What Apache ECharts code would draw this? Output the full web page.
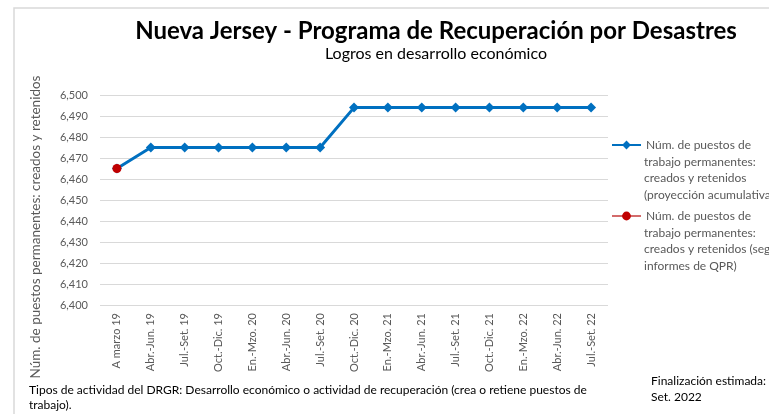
<!DOCTYPE html>
<html>
<head>
<meta charset="utf-8">
<script src="https://cdn.jsdelivr.net/npm/echarts@6/dist/echarts.min.js"></script>
<style>
  html, body { margin: 0; padding: 0; background: #fff; }
  #chart { width: 769px; height: 414px; }
</style>
</head>
<body>
<div id="chart"></div>
<script>
const categories = [
  'A marzo 19', 'Abr.-Jun. 19', 'Jul.-Set. 19', 'Oct.-Dic. 19', 'En.-Mzo. 20',
  'Abr.-Jun. 20', 'Jul.-Set. 20', 'Oct.-Dic. 20', 'En.-Mzo. 21', 'Abr.-Jun. 21',
  'Jul.-Set. 21', 'Oct.-Dic. 21', 'En.-Mzo. 22', 'Abr.-Jun. 22', 'Jul.-Set. 22'
]
const projected = [6465, 6475, 6475, 6475, 6475, 6475, 6475, 6494, 6494, 6494, 6494, 6494, 6494, 6494, 6494]
const reported = [6465, null, null, null, null, null, null, null, null, null, null, null, null, null, null]

const NAME_PROJ = 'Núm. de puestos de\ntrabajo permanentes:\ncreados y retenidos\n(proyección acumulativa)'
const NAME_QPR = 'Núm. de puestos de\ntrabajo permanentes:\ncreados y retenidos (según\ninformes de QPR)'

const FONT = 'Lato, "Open Sans", sans-serif'
const GREY = '#595959'

const chart = echarts.init(document.getElementById('chart'), null, { renderer: 'canvas' })

// legend shows the first line next to the icon, the rest goes in plain text below it
const firstLine = s => s.split('\n')[0]
const restLines = s => s.split('\n').slice(1).join('\n')
const legendText = { color: GREY, fontSize: 12, fontFamily: FONT }

const option = {
  animation: false,
  title: {
    text: 'Nueva Jersey - Programa de Recuperación por Desastres',
    subtext: 'Logros en desarrollo económico',
    left: 431, top: 14, textAlign: 'center', itemGap: 3,
    textStyle: { fontFamily: FONT, fontSize: 24, fontWeight: 'bold', color: '#000' },
    subtextStyle: { fontFamily: FONT, fontSize: 16, color: '#000' },
  },
  legend: [
    { data: [NAME_PROJ], left: 611, top: 139, padding: 0, itemWidth: 29, itemHeight: 11,
      formatter: firstLine, textStyle: legendText },
    { data: [NAME_QPR], left: 611, top: 210, padding: 0, itemWidth: 29, itemHeight: 11,
      formatter: firstLine, textStyle: legendText },
  ],
  grid: { left: 100, right: 161, top: 95, bottom: 109 },
  xAxis: {
    type: 'category',
    data: categories,
    boundaryGap: true,
    axisLine: { show: false },
    axisTick: { show: false },
    axisLabel: { rotate: 90, color: GREY, fontSize: 11, fontFamily: FONT, margin: 8, interval: 0 },
  },
  yAxis: {
    type: 'value',
    min: 6400, max: 6500, interval: 10,
    axisLabel: { color: GREY, fontSize: 11, fontFamily: FONT, margin: 12,
      formatter: v => v.toLocaleString('en-US') },
    splitLine: { lineStyle: { color: '#d9d9d9', width: 1 } },
  },
  series: [
    {
      name: NAME_PROJ, type: 'line', data: projected,
      symbol: 'diamond', symbolSize: 10,
      lineStyle: { color: '#0070C0', width: 3 },
      itemStyle: { color: '#0070C0' },
      z: 2,
    },
    {
      name: NAME_QPR, type: 'line', data: reported,
      symbol: 'circle', symbolSize: 9,
      lineStyle: { color: 'rgba(200,70,70,0.8)', width: 3 },
      itemStyle: { color: '#C00000' },
      z: 3,
    },
  ],
  graphic: [
    { type: 'rect', shape: { x: 14, y: 8, width: 800, height: 450 },
      style: { fill: null, stroke: '#d9d9d9', lineWidth: 1.5 }, silent: true, z: -1 },
    { type: 'text', x: 36, y: 227, rotation: Math.PI / 2, silent: true,
      style: { text: 'Núm. de puestos permanentes: creados y retenidos', fill: GREY,
        fontSize: 13.5, fontFamily: FONT, align: 'center', verticalAlign: 'middle' } },
    { type: 'text', x: 644, y: 154, silent: true,
      style: { text: restLines(NAME_PROJ), fill: GREY, fontSize: 12, fontFamily: FONT, lineHeight: 16.3 } },
    { type: 'text', x: 644, y: 225, silent: true,
      style: { text: restLines(NAME_QPR), fill: GREY, fontSize: 12, fontFamily: FONT, lineHeight: 16.3 } },
    { type: 'text', left: 29, top: 383,
      style: { text: 'Tipos de actividad del DRGR: Desarrollo económico o actividad de recuperación (crea o retiene puestos de\ntrabajo).',
        fill: '#000', fontSize: 12, fontFamily: FONT, lineHeight: 15 } },
    { type: 'text', left: 651, top: 373,
      style: { text: 'Finalización estimada:\nSet. 2022', fill: '#000', fontSize: 12, fontFamily: FONT, lineHeight: 16 } },
  ],
}

chart.setOption(option)
</script>
</body>
</html>
